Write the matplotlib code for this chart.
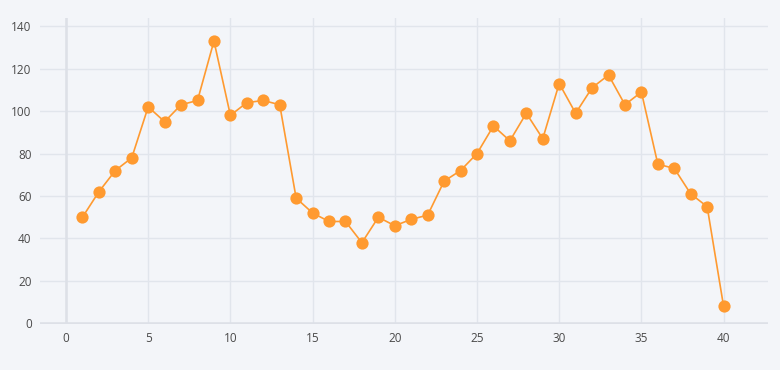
import matplotlib
matplotlib.use("Agg")
import matplotlib.pyplot as plt

plt.rcParams['font.family'] = ['Open Sans', 'DejaVu Sans']

x = list(range(1, 41))
y = [50, 62, 72, 78, 102, 95, 103, 105, 133, 98,
     104, 105, 103, 59, 52, 48, 48, 38, 50, 46,
     49, 51, 67, 72, 80, 93, 86, 99, 87, 113,
     99, 111, 117, 103, 109, 75, 73, 61, 55, 8]

xticks = [0, 5, 10, 15, 20, 25, 30, 35, 40]
yticks = [0, 20, 40, 60, 80, 100, 120, 140]

bg = "#f3f5f9"
fig = plt.figure(figsize=(7.8, 3.7), dpi=100, facecolor=bg)
ax = fig.add_axes([0.0513, 0.1243, 0.9333, 0.8267], facecolor=bg)

ax.plot(x, y, color="#ff9a30", lw=1.2, marker="o", ms=8.8,
        markerfacecolor="#ff9a30", markeredgewidth=0, zorder=3)

ax.set_xlim(-1.58, 42.7)
ax.set_ylim(-0.3, 143.8)
ax.set_xticks(xticks)
ax.set_yticks(yticks)
ax.grid(True, color="#e1e5ec", lw=1)
ax.set_axisbelow(True)
ax.axhline(0, color="#dde0e7", lw=1.8, zorder=1)
ax.axvline(0, color="#dde0e7", lw=1.8, zorder=1)
for s in ax.spines.values():
    s.set_visible(False)
ax.tick_params(length=0, labelsize=8.5, colors="#4a4a4a", pad=6)

fig.savefig("out.png", dpi=100, facecolor=bg)
